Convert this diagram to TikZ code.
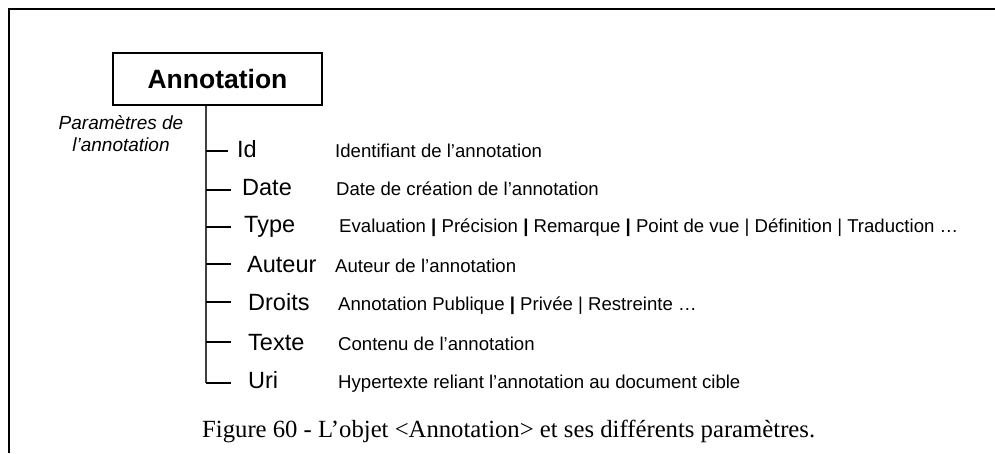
\documentclass[tikz,border=0pt]{standalone}
\usepackage{fontspec}
\setmainfont{Liberation Sans}
\newfontfamily\legendefont{Liberation Serif}
\usepackage{tikz}
\usetikzlibrary{positioning}

\begin{document}
\begin{tikzpicture}[
			x = 1pt, y = -1pt,
			objet/.style  = {draw, line width=1.6pt, minimum width=209pt, minimum height=52pt, inner sep=0pt, font=\bfseries\fontsize{26.5}{30}\selectfont},
			param/.style  = {anchor=base west, inner sep=0pt, font=\fontsize{23.5}{28}\selectfont},
			descr/.style  = {anchor=base west, inner sep=0pt, font=\fontsize{18.6}{22}\selectfont},
			branche/.style = {line width=1.4pt},
			tronc/.style  = {line width=1.3pt, black!75}
			]
			\useasboundingbox (0,0) rectangle (995,453);

			% frame
			\draw[line width=1.5pt] (995,9) -- (9,9) -- (9,453);

			% object
			\node[objet] (ann) at (217.5,79) {Annotation};
			\node[align=center, inner sep=0pt, font=\itshape\fontsize{19}{22}\selectfont] (legende) at (121,134) {Paramètres de\\l’annotation};

			% parameters
			\foreach \i/\nom/\px/\dx/\yb/\yt/\tx/\texte in {
					1/Id/237/335/157/151/228/{Identifiant de l’annotation},
					2/Date/242/336/195/190/231/{Date de création de l’annotation},
					3/Type/244/339/232/227/231/{Evaluation \textbf{|} Précision \textbf{|} Remarque \textbf{|} Point de vue | Définition | Traduction …},
					4/Auteur/247/335/272/264/231/{Auteur de l’annotation},
					5/Droits/248/338/310/302/231/{Annotation Publique \textbf{|} Privée | Restreinte …},
					6/Texte/248/338/350/342/231/{Contenu de l’annotation},
					7/Uri/248/338/388/383/231/{Hypertexte reliant l’annotation au document cible}} {
					\coordinate (c\i) at (206,\yt);
					\coordinate (t\i) at (\tx,\yt);
					\node[param] (p\i) at (\px,\yb) {\nom};
					\node[descr] (d\i) at (\dx,\yb) {\texte};
				}

			% branches
			\draw[tronc] (ann.south -| c7) -- (c7);
			\foreach \i in {1,...,7}
			\draw[branche] (c\i) -- (t\i);

			% caption
			\node[anchor=base west, inner sep=0pt, font=\legendefont\fontsize{24.7}{30}\selectfont] (titre) at (202,437) {Figure 60 - L’objet <Annotation> et ses différents paramètres.};
		\end{tikzpicture}
\end{document}
